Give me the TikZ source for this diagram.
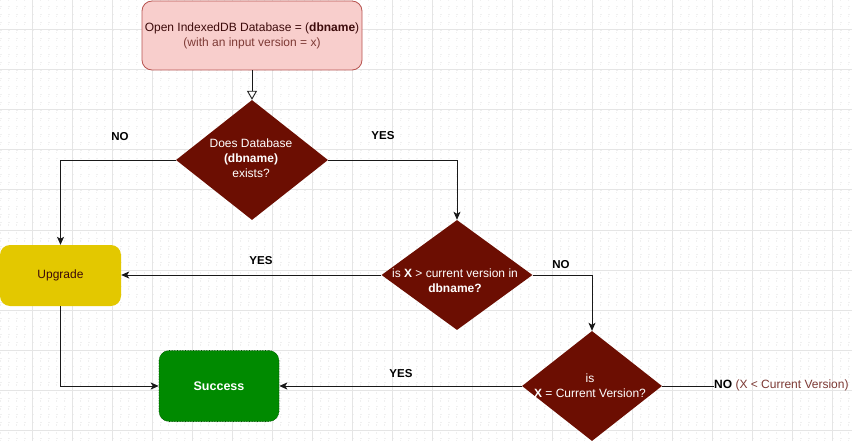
\documentclass[tikz,border=0pt]{standalone}
\usepackage{fontspec}
\setmainfont{Liberation Sans}
\usetikzlibrary{shapes.geometric,arrows.meta}
\definecolor{maroon}{RGB}{108,14,2}
\definecolor{pinkfill}{RGB}{248,206,204}
\definecolor{pinkline}{RGB}{184,84,80}
\definecolor{upfill}{RGB}{227,200,0}
\definecolor{okfill}{RGB}{0,138,0}
\definecolor{okline}{RGB}{0,80,0}
\definecolor{brownish}{RGB}{125,58,53}
\definecolor{darktext}{RGB}{60,10,10}
\definecolor{majorgrid}{RGB}{229,229,229}
\definecolor{minorgrid}{RGB}{240,240,240}
\tikzset{
  base/.style={font=\fontsize{12}{15}\selectfont, inner sep=0pt, align=center},
  startbox/.style={base, rectangle, rounded corners=10pt, fill=pinkfill, draw=pinkline, line width=0.8pt,
    minimum width=220pt, minimum height=69pt, text=darktext},
  decision/.style={diamond, fill=maroon, draw=none, inner sep=0pt},
  dtext/.style={base, text=white},
  upbox/.style={base, rectangle, rounded corners=10pt, fill=upfill, draw=none,
    minimum width=121pt, minimum height=61pt, text=darktext},
  okbox/.style={base, rectangle, rounded corners=10pt, fill=okfill, draw=okline, densely dotted, line width=0.6pt,
    minimum width=120pt, minimum height=71pt, text=white, font=\fontsize{12.5}{15}\selectfont\bfseries},
  lbl/.style={font=\fontsize{11.5}{13}\selectfont\bfseries, inner sep=0pt, text=black},
  conn/.style={draw=black!90, line width=0.9pt, -{Stealth[length=8pt,width=7pt,inset=2pt]}},
  plainconn/.style={draw=black!90, line width=0.9pt},
  openconn/.style={draw=black!90, line width=0.9pt, -{Triangle[open,length=9pt,width=10pt,fill=white]}}
}
\begin{document}
\begin{tikzpicture}[x=1pt,y=-1pt]
\useasboundingbox (0,0) rectangle (852,441);
\fill[white] (0,0) rectangle (852,441);
% minor grid
\foreach \x in {0,8,...,848} \draw[minorgrid, line width=0.5pt, dash pattern=on 1.5pt off 6.5pt] (\x,0) -- (\x,441);
\foreach \y in {6,14,...,438} \draw[minorgrid, line width=0.5pt, dash pattern=on 1.5pt off 6.5pt] (0,\y) -- (852,\y);
% major grid
\foreach \x in {32,72,...,832} \draw[majorgrid, line width=1pt] (\x,0) -- (\x,441);
\foreach \y in {30,70,...,430} \draw[majorgrid, line width=1pt] (0,\y) -- (852,\y);

% nodes
\node[startbox] (start) at (252,35.5) {Open IndexedDB Database = (\textbf{dbname})\\\textcolor{brownish}{(with an input version = x)}};
\node[decision, minimum width=152pt, minimum height=120pt] (d1) at (252,160) {};
\node[dtext] (t1) at (251,158) {Does Database\\\textbf{(dbname)}\\exists?};
\node[decision, minimum width=151pt, minimum height=110pt] (d2) at (457,275) {};
\node[dtext] (t2) at (455,281) {is \textbf{X} > current version in\\\textbf{dbname?}};
\node[decision, minimum width=140pt, minimum height=110pt] (d3) at (592,386) {};
\node[dtext] (t3) at (590,386) {is\\\textbf{X} = Current Version?};
\node[upbox] (up) at (60.5,275.5) {Upgrade};
\node[okbox] (ok) at (219,386) {Success};
\node[base, anchor=west] (nolast) at (714,385) {\textbf{NO} \textcolor{brownish}{(X < Current Version)}};

% labels
\node[lbl] (l1) at (120,137) {NO};
\node[lbl] (l2) at (383,136) {YES};
\node[lbl] (l3) at (261,261) {YES};
\node[lbl] (l4) at (561,265) {NO};
\node[lbl] (l5) at (401,374) {YES};

% connectors
\draw[openconn] (start.south) -- (d1.north);
\draw[conn] (d1.west) -| (up.north);
\draw[conn] (d1.east) -| (d2.north);
\draw[conn] (d2.west) -- (up.east |- d2.west);
\draw[conn] (d2.east) -| (d3.north);
\draw[conn] (up.south) |- (ok.west);
\draw[conn] (d3.west) -- (ok.east);
\draw[plainconn] (d3.east) -- (d3.east -| nolast.west);
\end{tikzpicture}
\end{document}
